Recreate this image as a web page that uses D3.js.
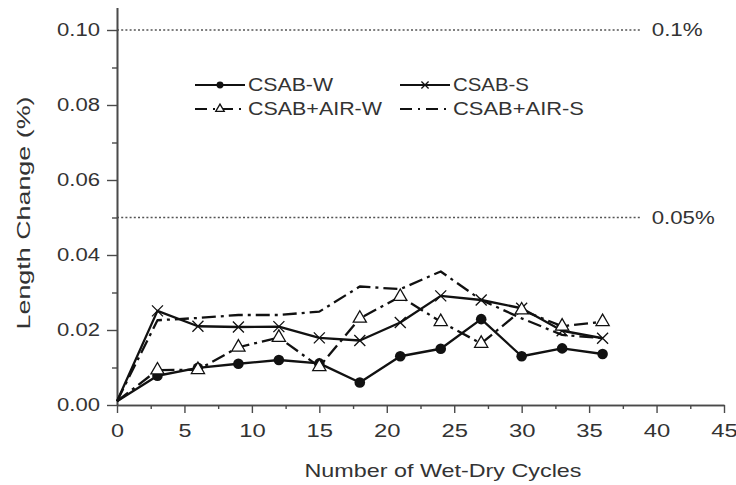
<!DOCTYPE html>
<html>
<head>
<meta charset="utf-8">
<script src="https://cdn.jsdelivr.net/npm/d3@7"></script>
<style>
  html, body { margin: 0; padding: 0; background: #fff; }
  svg { display: block; font-family: "Liberation Sans", Arial, sans-serif; }
</style>
</head>
<body>
<script>
// Wet-dry cycle counts (x) and measured length change (%) for each mix
const cycles = [0, 3, 6, 9, 12, 15, 18, 21, 24, 27, 30, 33, 36];
const csabW  = [0.001, 0.0078, 0.0099, 0.0110, 0.0120, 0.0111, 0.0060, 0.0130, 0.0150, 0.0229, 0.0130, 0.0151, 0.0136];
const csabS  = [0.001, 0.0251, 0.0210, 0.0208, 0.0209, 0.0179, 0.0172, 0.0220, 0.0291, 0.0280, 0.0258, 0.0198, 0.0178];
const airW   = [0.001, 0.0093, 0.0094, 0.0154, 0.0180, 0.0102, 0.0231, 0.0289, 0.0222, 0.0164, 0.0253, 0.0210, 0.0222];
const airS   = [0.001, 0.0226, 0.0232, 0.0240, 0.0240, 0.0249, 0.0316, 0.0309, 0.0356, 0.0280, 0.0231, 0.0187, 0.0178];

const seriesNames = ["CSAB-W", "CSAB-S", "CSAB+AIR-W", "CSAB+AIR-S"];

// Tick values
const xMajorTicks = [0, 5, 10, 15, 20, 25, 30, 35, 40, 45];
const xMinorTicks = [2.5, 7.5, 12.5, 17.5, 22.5, 27.5, 32.5, 37.5, 42.5];
const yMajorTicks = [0, 0.02, 0.04, 0.06, 0.08, 0.10];
const yMinorTicks = [0.01, 0.03, 0.05, 0.07, 0.09];

// Limit lines
const limitValues = [0.10, 0.05];
const limitLabels = ["0.1%", "0.05%"];
const limitEnd = 38.9;

const W = 736, H = 485;
const svg = d3.select("body").append("svg").attr("width", W).attr("height", H);
svg.append("rect").attr("width", W).attr("height", H).attr("fill", "#fff");

const x = d3.scaleLinear().domain([0, 45]).range([117, 724]);
const y = d3.scaleLinear().domain([0, 0.106]).range([405, 7.5]);

const axisColor = "#4a4a4a";
const textColor = "#333";

// ---- limit lines ----
const limits = svg.append("g");
limitValues.forEach((v, i) => {
  limits.append("line")
    .attr("x1", x(0)).attr("x2", x(limitEnd))
    .attr("y1", y(v)).attr("y2", y(v))
    .attr("stroke", "#555").attr("stroke-width", 1.3)
    .attr("stroke-dasharray", "2,2.2");
  const t = limits.append("text")
    .attr("x", x(limitEnd) + 10).attr("y", y(v))
    .attr("dy", "0.36em")
    .attr("font-size", 18).attr("fill", textColor)
    .text(limitLabels[i]);
  t.attr("textLength", i === 0 ? 51 : 63).attr("lengthAdjust", "spacingAndGlyphs");
});

// ---- axes ----
function styleAxis(g) {
  g.select(".domain").attr("stroke", axisColor).attr("stroke-width", 1.6);
  g.selectAll(".tick line").attr("stroke", axisColor).attr("stroke-width", 1.4);
  g.selectAll(".tick text").attr("fill", textColor);
}

const yAxisMinor = svg.append("g").attr("transform", `translate(${x(0)},0)`)
  .call(d3.axisLeft(y).tickValues(yMinorTicks).tickSize(5).tickSizeOuter(0).tickFormat(""));
styleAxis(yAxisMinor);
const yAxis = svg.append("g").attr("transform", `translate(${x(0)},0)`)
  .call(d3.axisLeft(y).tickValues(yMajorTicks).tickSize(10).tickSizeOuter(0)
    .tickPadding(7).tickFormat(d3.format(".2f")));
styleAxis(yAxis);
yAxis.selectAll(".tick text")
  .attr("font-size", 18).attr("font-family", "Liberation Sans, Arial, sans-serif")
  .attr("textLength", 43).attr("lengthAdjust", "spacingAndGlyphs");

const xAxisMinor = svg.append("g").attr("transform", `translate(0,${y(0)})`)
  .call(d3.axisBottom(x).tickValues(xMinorTicks).tickSize(4).tickSizeOuter(0).tickFormat(""));
styleAxis(xAxisMinor);
const xAxis = svg.append("g").attr("transform", `translate(0,${y(0)})`)
  .call(d3.axisBottom(x).tickValues(xMajorTicks).tickSize(8).tickSizeOuter(0).tickFormat(d3.format("d")));
styleAxis(xAxis);
xAxis.selectAll(".tick text")
  .attr("font-size", 19).attr("font-family", "Liberation Sans, Arial, sans-serif")
  .attr("y", 32).attr("dy", 0)
  .each(function (d) {
    const n = String(d).length;
    d3.select(this).attr("textLength", n === 1 ? 13 : 26.5).attr("lengthAdjust", "spacingAndGlyphs");
  });

// ---- axis titles ----
svg.append("text")
  .attr("x", 443).attr("y", 477)
  .attr("text-anchor", "middle")
  .attr("font-size", 19).attr("fill", textColor)
  .attr("textLength", 277).attr("lengthAdjust", "spacingAndGlyphs")
  .text("Number of Wet-Dry Cycles");

svg.append("text")
  .attr("transform", "translate(30,213) rotate(-90)")
  .attr("text-anchor", "middle")
  .attr("font-size", 18).attr("fill", textColor)
  .attr("textLength", 233).attr("lengthAdjust", "spacingAndGlyphs")
  .text("Length Change  (%)");

// ---- series ----
const lineStroke = "#111";
const series = [
  { name: seriesNames[0], values: csabW, dash: null, marker: "circle" },
  { name: seriesNames[1], values: csabS, dash: null, marker: "cross" },
  { name: seriesNames[2], values: airW, dash: "14,5,3,5", marker: "triangle" },
  { name: seriesNames[3], values: airS, dash: "14,5,3,5", marker: null }
];

const line = d3.line().x(d => x(d[0])).y(d => y(d[1]));

const linesG = svg.append("g");
series.forEach(s => {
  const pts = cycles.map((c, i) => [c, s.values[i]]);
  linesG.append("path")
    .datum(pts)
    .attr("d", line)
    .attr("fill", "none")
    .attr("stroke", lineStroke)
    .attr("stroke-width", 2.3)
    .attr("stroke-linejoin", "round")
    .attr("stroke-dasharray", s.dash);
});

function drawMarker(g, type, cx, cy, scale) {
  if (type === "circle") {
    g.append("circle").attr("cx", cx).attr("cy", cy).attr("r", 5.3 * scale).attr("fill", lineStroke);
  } else if (type === "cross") {
    const r = 5.5 * scale;
    g.append("path")
      .attr("d", `M${cx - r},${cy - r}L${cx + r},${cy + r}M${cx - r},${cy + r}L${cx + r},${cy - r}`)
      .attr("stroke", lineStroke).attr("stroke-width", 1.3).attr("fill", "none");
  } else if (type === "triangle") {
    g.append("path")
      .attr("transform", `translate(${cx},${cy})`)
      .attr("d", d3.symbol(d3.symbolTriangle, 75 * scale * scale)())
      .attr("fill", "#fff").attr("stroke", lineStroke).attr("stroke-width", 1.3);
  }
}

const markersG = svg.append("g");
series.forEach(s => {
  if (!s.marker) return;
  cycles.forEach((c, i) => {
    if (i === 0) return;
    drawMarker(markersG, s.marker, x(c), y(s.values[i]), 1);
  });
});

// ---- legend ----
const legendItems = [
  { s: series[0], lx: 195, ly: 85, tl: 85 },
  { s: series[1], lx: 400, ly: 85, tl: 76 },
  { s: series[2], lx: 195, ly: 109, tl: 134 },
  { s: series[3], lx: 400, ly: 109, tl: 131 }
];
const legend = svg.append("g");
legendItems.forEach(it => {
  legend.append("line")
    .attr("x1", it.lx).attr("x2", it.lx + 50)
    .attr("y1", it.ly).attr("y2", it.ly)
    .attr("stroke", lineStroke).attr("stroke-width", 2.2)
    .attr("stroke-dasharray", it.s.dash ? "12,6,2,6" : null);
  if (it.s.marker) drawMarker(legend, it.s.marker, it.lx + 25, it.ly, 0.65);
  legend.append("text")
    .attr("x", it.lx + 53).attr("y", it.ly).attr("dy", "0.36em")
    .attr("font-size", 18).attr("fill", textColor)
    .attr("textLength", it.tl).attr("lengthAdjust", "spacingAndGlyphs")
    .text(it.s.name);
});
</script>
</body>
</html>
